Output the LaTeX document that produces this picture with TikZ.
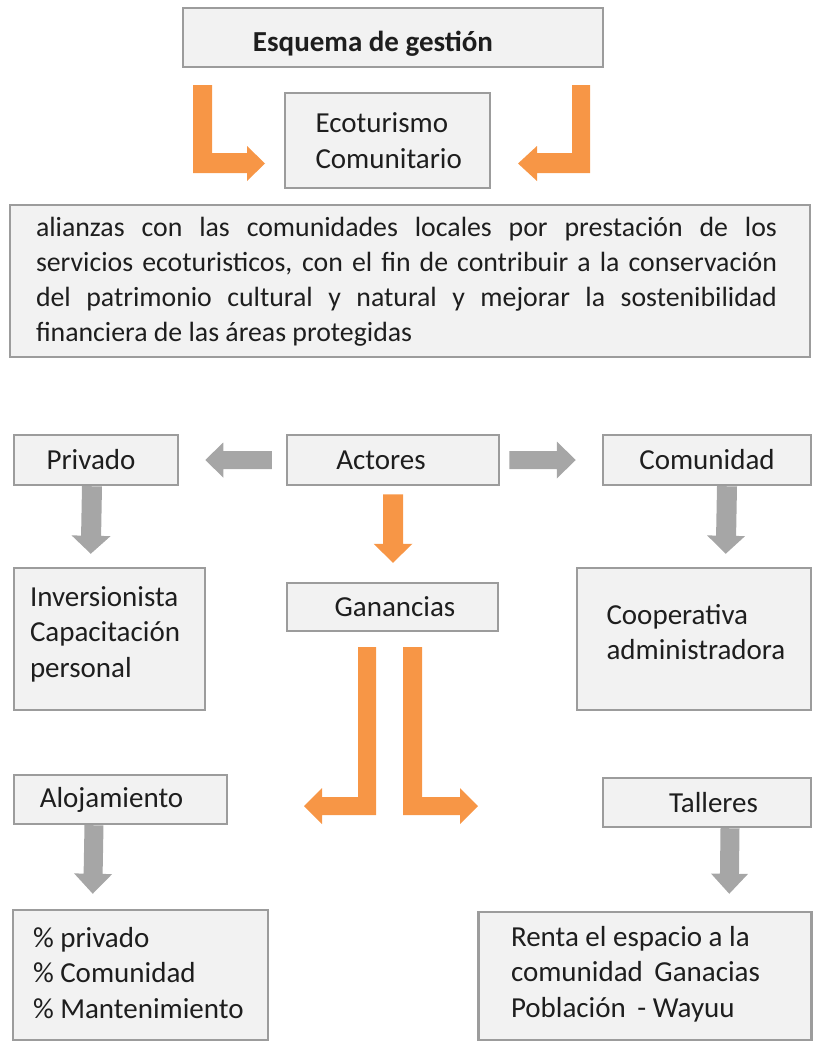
\documentclass[tikz,border=0pt]{standalone}
\usepackage{fontspec}
\setmainfont{Carlito}
\usetikzlibrary{calc}
\definecolor{boxfill}{HTML}{F2F2F2}
\definecolor{boxline}{HTML}{9C9C9C}
\definecolor{arrgray}{HTML}{A6A6A6}
\definecolor{arrorange}{HTML}{F79646}
\definecolor{txt}{HTML}{1E1E1E}
% block arrow: style, start, tip, half shaft, half head, head length
\newcommand\blkarrow[6]{%
  \coordinate (ba-s) at #2;
  \coordinate (ba-e) at #3;
  \coordinate (ba-c) at ($(ba-e)!#6!(ba-s)$);
  \fill[#1] ($(ba-s)!#4!90:(ba-e)$) -- ($(ba-c)!#4!90:(ba-e)$) -- ($(ba-c)!#5!90:(ba-e)$) -- (ba-e)
    -- ($(ba-c)!#5!-90:(ba-e)$) -- ($(ba-c)!#4!-90:(ba-e)$) -- ($(ba-s)!#4!-90:(ba-e)$) -- cycle;}
% justified line
\newcommand\jline[1]{\leavevmode\hbox to 741pt{\spaceskip=6pt plus 1fil\relax #1}}
% left-aligned text block, raised by #1, width #2
\newcommand\rtext[3]{\raisebox{#1}[\height][\depth]{\parbox{#2}{\raggedright #3}}}
\begin{document}
\begin{tikzpicture}[x=1pt,y=-1pt,
  box/.style={draw=boxline, fill=boxfill, line width=2.5pt, rectangle, inner sep=0pt,
    text=txt, font=\fontsize{29}{35.5}\selectfont},
  garrow/.style={arrgray},
  oarrow/.style={arrorange}]
\useasboundingbox (0,0) rectangle (812,1044);

% boxes
\node[box, minimum width=420pt, minimum height=59pt] (esq) at (393,37.5)
  {\raisebox{-6pt}[\height][\depth]{\bfseries Esquema de gestión}\hspace*{40pt}};
\node[box, minimum width=205pt, minimum height=95pt] (eco) at (387.5,140.5)
  {\rtext{0pt}{150pt}{\hspace*{3pt}Ecoturismo\\\hspace*{3pt}Comunitario}};
\node[box, minimum width=800pt, minimum height=152pt,
  font=\fontsize{27.8}{35}\selectfont] (alz) at (410,281)
  {\rtext{-1pt}{748pt}{\jline{alianzas con las comunidades locales por prestación de los}\\
   \jline{servicios ecoturisticos, con el fin de contribuir a la conservación}\\
   \jline{del patrimonio cultural y natural y mejorar la sostenibilidad}\\
   financiera de las áreas protegidas}};

\node[box, minimum width=164pt, minimum height=50pt] (priv) at (96,460) {Privado\hspace*{10pt}};
\node[box, minimum width=212pt, minimum height=50pt] (act) at (393,460) {Actores\hspace*{24pt}};
\node[box, minimum width=208pt, minimum height=50pt] (com) at (707,460) {Comunidad};

\node[box, minimum width=191pt, minimum height=142pt] (inv) at (109.5,639)
  {\rtext{5pt}{159pt}{Inversionista\\Capacitación\\personal}};
\node[box, minimum width=211pt, minimum height=48pt] (gan) at (392.5,607) {\hspace*{5pt}Ganancias};
\node[box, minimum width=234pt, minimum height=142pt] (coop) at (694,639)
  {\rtext{7pt}{175pt}{Cooperativa\\administradora}};

\node[box, minimum width=213pt, minimum height=49pt] (aloj) at (120.5,799.5) {Alojamiento\hspace*{18pt}};
\node[box, minimum width=208pt, minimum height=49pt] (tall) at (707,802.5) {\hspace*{13pt}Talleres};

\node[box, minimum width=255pt, minimum height=130pt] (pct) at (140.5,975)
  {\rtext{2pt}{215pt}{\% privado\\\% Comunidad\\\% Mantenimiento}};
\node[box, minimum width=333pt, minimum height=128pt] (renta) at (645,976)
  {\rtext{2pt}{268pt}{Renta el espacio a la\\comunidad\hspace{5pt} Ganacias\\Población\hspace{5pt} - Wayuu}};

% orange L arrows (top)
\fill[oarrow] (193,85) -- (212,85) -- (212,153) -- (247,153) -- (247,146) -- (265,163.5)
  -- (247,181) -- (247,173) -- (193,173) -- cycle;
\fill[oarrow] (590,85) -- (572,85) -- (572,153) -- (537,153) -- (537,146) -- (518,163.5)
  -- (537,181) -- (537,173) -- (590,173) -- cycle;

% gray arrows from Actores
\blkarrow{garrow}{($(act.west)+(-14,0)$)}{($(priv.east)+(26,0)$)}{9pt}{17.5pt}{18pt}
\blkarrow{garrow}{($(act.east)+(9,0)$)}{($(com.west)+(-26,0)$)}{9pt}{18.5pt}{19pt}
% down arrows
\blkarrow{garrow}{($(priv.south)+(-4,0)$)}{($(inv.north west)+(78,-13)$)}{10pt}{19.5pt}{18pt}
\blkarrow{garrow}{($(com.south)+(20,0)$)}{($(coop.north west)+(150,-13)$)}{10pt}{19pt}{18pt}
\blkarrow{oarrow}{($(act.south)+(0,8)$)}{($(gan.north)+(0.5,-19)$)}{10pt}{19.5pt}{19pt}
\blkarrow{garrow}{($(aloj.south)+(-26.5,0)$)}{($(pct.north west)+(81,-15)$)}{9.5pt}{19pt}{20pt}
\blkarrow{garrow}{($(tall.south)+(23,0)$)}{($(renta.north west)+(252,-17)$)}{9.5pt}{18.5pt}{20pt}

% orange L arrows from Ganancias
\fill[oarrow] (358,647) -- (376,647) -- (376,815) -- (322,815) -- (322,824) -- (304,806)
  -- (322,788) -- (322,797) -- (358,797) -- cycle;
\fill[oarrow] (422,647) -- (403,647) -- (403,815) -- (460,815) -- (460,824) -- (478,806)
  -- (460,788) -- (460,797) -- (422,797) -- cycle;
\end{tikzpicture}
\end{document}
